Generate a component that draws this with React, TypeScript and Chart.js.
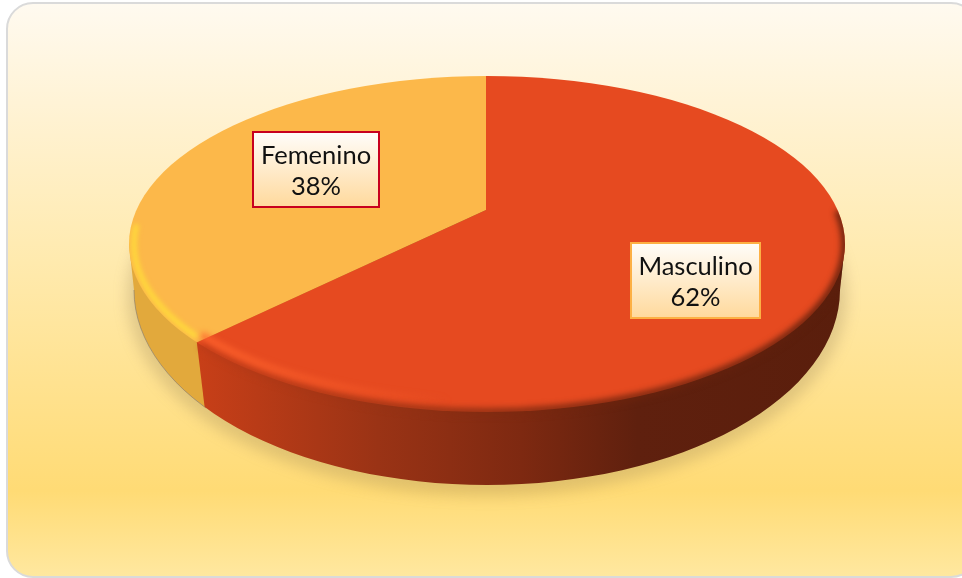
import React, { useEffect, useRef } from "react";
import { Chart, registerables } from "chart.js";

Chart.register(...registerables);

const categories = ["Masculino", "Femenino"];
const shares = [62, 38];
const sliceColors = ["#E64A20", "#FCB84A"];
const labelBorders = ["#FDB044", "#C8001E"];

const W = 962;
const H = 578;
const FACE = { cx: 487, cy: 244, rx: 358, ry: 168 };
const BASE = { cx: 487, cy: 290, rx: 353, ry: 195 };
const APEX = { x: 486, y: 210, squash: 0.43, zoom: 2 };
const LABEL_BOXES = [
  { x: 631, y: 243, w: 129, h: 75 },
  { x: 253, y: 132, w: 126, h: 75 },
];

function ellipsePath(ctx: CanvasRenderingContext2D, e: any, a = 0, b = Math.PI * 2) {
  ctx.beginPath();
  ctx.ellipse(e.cx, e.cy, e.rx, e.ry, 0, a, b);
}

function rimPoint(clockwiseFromTop: number) {
  const dx = Math.sin(clockwiseFromTop);
  const dy = -Math.cos(clockwiseFromTop) * APEX.squash;
  const ox = (APEX.x - FACE.cx) / FACE.rx;
  const oy = (APEX.y - FACE.cy) / FACE.ry;
  const ux = dx / FACE.rx;
  const uy = dy / FACE.ry;
  const A = ux * ux + uy * uy;
  const B = 2 * (ox * ux + oy * uy);
  const C = ox * ox + oy * oy - 1;
  const t = (-B + Math.sqrt(B * B - 4 * A * C)) / (2 * A);
  return { x: APEX.x + t * dx, y: APEX.y + t * dy };
}

function seamPoint() {
  return rimPoint((shares[0] / (shares[0] + shares[1])) * Math.PI * 2);
}

function wallPath(ctx: CanvasRenderingContext2D) {
  ctx.beginPath();
  ctx.ellipse(BASE.cx, BASE.cy, BASE.rx, BASE.ry, 0, 0, Math.PI * 2);
  ctx.closePath();
  ctx.moveTo(FACE.cx - FACE.rx, FACE.cy);
  ctx.lineTo(FACE.cx + FACE.rx, FACE.cy);
  ctx.lineTo(BASE.cx + BASE.rx, BASE.cy);
  ctx.lineTo(BASE.cx - BASE.rx, BASE.cy);
  ctx.closePath();
}

function discPath(ctx: CanvasRenderingContext2D) {
  wallPath(ctx);
  ctx.moveTo(FACE.cx + FACE.rx, FACE.cy);
  ctx.ellipse(FACE.cx, FACE.cy, FACE.rx, FACE.ry, 0, 0, Math.PI * 2);
  ctx.closePath();
}

function roundedPanel(ctx: CanvasRenderingContext2D) {
  ctx.beginPath();
  ctx.roundRect(7, 3, 970, 574, 26);
}

const pie3d = {
  id: "pie3d",
  beforeDraw(chart: any) {
    const ctx: CanvasRenderingContext2D = chart.ctx;
    ctx.save();
    ctx.fillStyle = "#ffffff";
    ctx.fillRect(0, 0, W, H);
    const g = ctx.createLinearGradient(0, 3, 0, 577);
    g.addColorStop(0, "#FFFAF0");
    g.addColorStop(0.2, "#FFF2D2");
    g.addColorStop(0.45, "#FFEAAE");
    g.addColorStop(0.85, "#FFDB75");
    g.addColorStop(1, "#FFE8A0");
    roundedPanel(ctx);
    ctx.fillStyle = g;
    ctx.fill();
    ctx.strokeStyle = "#DADADA";
    ctx.lineWidth = 2;
    ctx.stroke();

    // soft shadow under the disc
    ctx.filter = "blur(7px)";
    ctx.fillStyle = "rgba(130,110,70,0.24)";
    ellipsePath(ctx, { ...BASE, cy: BASE.cy + 6, rx: BASE.rx + 7, ry: BASE.ry + 5 });
    ctx.fill();
    ctx.filter = "none";

    // side wall, split where the slices meet at the front
    const seam = seamPoint();
    const slope = 0.12;
    const xTop = seam.x - seam.y * slope;
    const xBottom = seam.x + (H - seam.y) * slope;

    ctx.save();
    ctx.beginPath();
    ctx.moveTo(0, 0);
    ctx.lineTo(xTop + 1, 0);
    ctx.lineTo(xBottom + 1, H);
    ctx.lineTo(0, H);
    ctx.closePath();
    ctx.clip();
    wallPath(ctx);
    ctx.fillStyle = "#E2A93C";
    ctx.fill();
    ellipsePath(ctx, BASE, Math.PI / 2, Math.PI);
    ctx.strokeStyle = "rgba(130,120,110,0.6)";
    ctx.lineWidth = 1;
    ctx.stroke();
    ctx.restore();

    ctx.save();
    ctx.beginPath();
    ctx.moveTo(xTop, 0);
    ctx.lineTo(xBottom, H);
    ctx.lineTo(W, H);
    ctx.lineTo(W, 0);
    ctx.closePath();
    ctx.clip();
    const wall = ctx.createLinearGradient(seam.x, 0, 845, 0);
    wall.addColorStop(0, "#C83F18");
    wall.addColorStop(0.28, "#9A3315");
    wall.addColorStop(0.5, "#7E2911");
    wall.addColorStop(0.68, "#5F200E");
    wall.addColorStop(1, "#5A1E0C");
    wallPath(ctx);
    ctx.fillStyle = wall;
    ctx.fill();
    ctx.restore();
    ctx.restore();
  },
  beforeDatasetsDraw(chart: any) {
    const ctx: CanvasRenderingContext2D = chart.ctx;
    const arc = chart.getDatasetMeta(0).data[0];
    ctx.save();
    ellipsePath(ctx, FACE);
    ctx.clip();
    ctx.translate(APEX.x, APEX.y);
    ctx.scale(APEX.zoom, APEX.zoom * APEX.squash);
    ctx.translate(-arc.x, -arc.y);
  },
  afterDatasetsDraw(chart: any) {
    const ctx: CanvasRenderingContext2D = chart.ctx;
    ctx.restore();

    const seam = seamPoint();
    const seamT = Math.atan2((seam.y - FACE.cy) / FACE.ry, (seam.x - FACE.cx) / FACE.rx);

    ctx.save();
    ctx.lineCap = "butt";

    // soft edge between the red face and its wall, kept inside the disc outline
    ctx.save();
    discPath(ctx);
    ctx.clip();
    const rim = ctx.createLinearGradient(seam.x, 0, 845, 0);
    rim.addColorStop(0, "rgba(190,60,24,0.9)");
    rim.addColorStop(0.3, "rgba(150,50,20,0.9)");
    rim.addColorStop(0.6, "rgba(110,36,14,0.9)");
    rim.addColorStop(1, "rgba(90,30,12,0.95)");
    ctx.filter = "blur(3px)";
    ctx.strokeStyle = rim;
    ctx.lineWidth = 7;
    ellipsePath(ctx, FACE, -0.2, seamT - 0.02);
    ctx.stroke();
    ctx.filter = "none";
    ctx.restore();

    ellipsePath(ctx, FACE);
    ctx.clip();

    // lit rim on the slice edges
    const lit = ctx.createLinearGradient(seam.x, 0, 450, 0);
    lit.addColorStop(0, "rgba(255,100,45,1)");
    lit.addColorStop(1, "rgba(255,100,45,0)");
    ctx.filter = "blur(3px)";
    ctx.strokeStyle = lit;
    ctx.lineWidth = 6;
    ellipsePath(ctx, { ...FACE, rx: FACE.rx - 8, ry: FACE.ry - 11 }, 1.3, seamT + 0.01);
    ctx.stroke();

    ctx.filter = "blur(2.5px)";
    ctx.strokeStyle = "#FFDC3A";
    ctx.lineWidth = 5;
    ellipsePath(ctx, { ...FACE, rx: FACE.rx - 5, ry: FACE.ry - 5 }, seamT + 0.02, Math.PI + 0.12);
    ctx.stroke();
    ctx.filter = "none";
    ctx.restore();
  },
  afterDraw(chart: any) {
    const ctx: CanvasRenderingContext2D = chart.ctx;
    const total = shares.reduce((a, b) => a + b, 0);
    ctx.save();
    categories.forEach((name, i) => {
      const b = LABEL_BOXES[i];
      const g = ctx.createLinearGradient(0, b.y, 0, b.y + b.h);
      g.addColorStop(0, "#FFFDFA");
      g.addColorStop(1, "#FFD99C");
      ctx.fillStyle = g;
      ctx.fillRect(b.x, b.y, b.w, b.h);
      ctx.strokeStyle = labelBorders[i];
      ctx.lineWidth = 2;
      ctx.strokeRect(b.x, b.y, b.w, b.h);
      ctx.fillStyle = "#111111";
      ctx.font = '25.5px Lato, "Open Sans", sans-serif';
      ctx.textAlign = "center";
      ctx.textBaseline = "middle";
      const mid = b.x + b.w / 2;
      ctx.fillText(name, mid, b.y + 24);
      ctx.fillText(`${Math.round((shares[i] / total) * 100)}%`, mid, b.y + 55);
    });
    ctx.restore();
  },
};

export default function App() {
  const ref = useRef<HTMLCanvasElement>(null);
  useEffect(() => {
    const chart = new Chart(ref.current!, {
      type: "pie",
      data: {
        labels: categories,
        datasets: [
          {
            data: shares,
            backgroundColor: sliceColors,
            borderWidth: 0,
            clip: false,
          } as any,
        ],
      },
      options: {
        responsive: false,
        animation: false,
        plugins: { legend: { display: false }, tooltip: { enabled: false }, title: { display: false } },
      },
      plugins: [pie3d],
    });
    return () => chart.destroy();
  }, []);
  return (
    <canvas
      ref={ref}
      width={W}
      height={H}
      style={{ position: "absolute", left: 0, top: 0, display: "block", width: W, height: H }}
    />
  );
}
